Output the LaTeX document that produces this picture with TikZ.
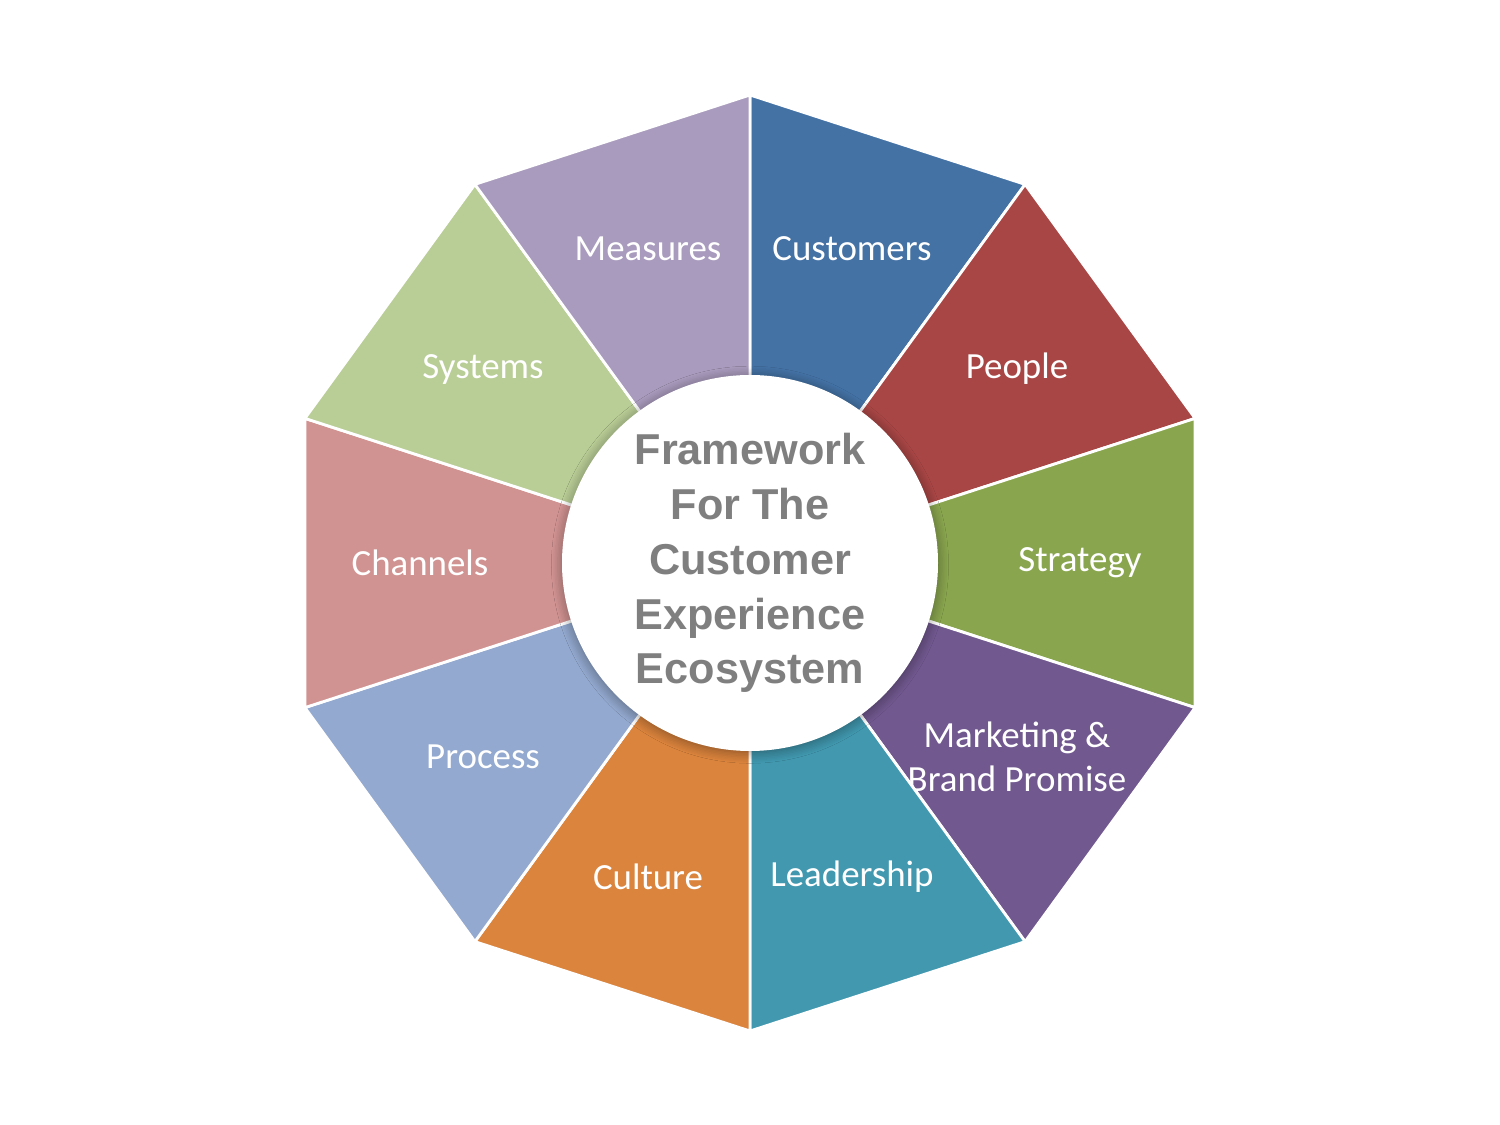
\documentclass[tikz,border=0pt]{standalone}
\usepackage{fontspec}
\setmainfont{Carlito}
\newfontfamily\ctrfont{Liberation Sans}
\usetikzlibrary{shadows.blur}
\definecolor{cCus}{HTML}{4472A5}
\definecolor{cPeo}{HTML}{A84645}
\definecolor{cStr}{HTML}{89A54E}
\definecolor{cMar}{HTML}{71588F}
\definecolor{cLea}{HTML}{4198AF}
\definecolor{cCul}{HTML}{DB843D}
\definecolor{cPro}{HTML}{93A9CF}
\definecolor{cCha}{HTML}{D19392}
\definecolor{cSys}{HTML}{B9CD96}
\definecolor{cMea}{HTML}{A99BBD}
\definecolor{ctrgray}{HTML}{7F7F7F}
\tikzset{seglabel/.style={text=white,font=\fontsize{10.5}{12.5}\selectfont,align=center}}
\begin{document}
\begin{tikzpicture}
\useasboundingbox (0,0) rectangle (15,11.25);
\coordinate (c) at (7.5,5.62);
\foreach \a/\col/\txt [count=\i] in {90/cCus/Customers,54/cPeo/People,18/cStr/Strategy,-18/cMar/{Marketing \&\\Brand Promise},-54/cLea/Leadership,-90/cCul/Culture,-126/cPro/Process,-162/cCha/Channels,-198/cSys/Systems,-234/cMea/Measures}{
  \fill[\col,draw=white,line width=0.8pt] (c) -- ($(c)+(\a:4.68)$) -- ($(c)+(\a-36:4.68)$) -- cycle;
  \node[seglabel] (l\i) at ($(c)+(\a-18:3.3)$) {\txt};
}
\node[circle,fill=white,minimum size=3.76cm,inner sep=0pt,blur shadow={shadow blur steps=8,shadow xshift=0pt,shadow yshift=-0.5pt,shadow blur radius=3pt}] (hub) at (c) {};
\node[text=ctrgray,font=\ctrfont\bfseries\fontsize{12.3}{15.6}\selectfont,align=center] (hubtxt) at (c) {Framework\\For The\\Customer\\Experience\\Ecosystem};
\end{tikzpicture}
\end{document}
